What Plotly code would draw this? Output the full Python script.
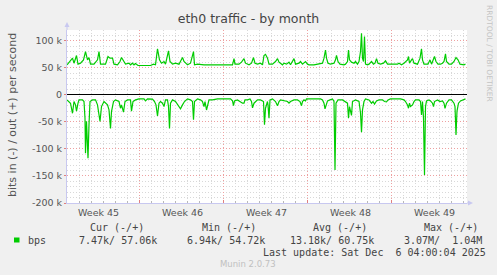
import plotly.graph_objects as go

# ---------------- data (values in k bits/s, time in hours since graph start) ----------------
out_hours = [0, 6, 11, 14, 19, 22, 27, 33, 37, 41, 44, 47, 54, 61, 64, 67, 77, 82, 86, 91, 94,
             101, 106, 109, 113, 117, 124, 127, 131, 134, 137, 142, 167, 173, 177, 181, 185, 189,
             194, 197, 203, 206, 211, 217, 224, 231, 234, 237, 241, 247, 253, 255, 261, 274, 287,
             301, 327, 331, 334, 336, 344, 349, 354, 357, 364, 369, 373, 376, 381, 387, 391, 394,
             397, 401, 404, 411, 417, 421, 424, 431, 434, 439, 444, 447, 454, 457, 464, 467, 471,
             474, 477, 481, 484, 494, 504, 511, 514, 517, 519, 522, 527, 534, 537, 539, 542, 546,
             554, 557, 561, 563, 565, 569, 574, 577, 581, 584, 587, 589, 591, 593, 595, 597, 601,
             604, 609, 613, 616, 619, 622, 627, 633, 637, 641, 647, 661, 664, 669, 674, 677, 681,
             683, 685, 689, 691, 694, 701, 706, 709, 711, 714, 722, 726, 729, 733, 735, 738, 742,
             747, 751, 754, 757, 759, 764, 769, 774, 778, 782, 786, 791, 794, 797]
out_k = [55.6, 61.7, 67.9, 58.6, 72.8, 56.8, 58.6, 64.8, 80.2, 64.8, 69.1, 56.8, 56.8, 64.8, 80.2,
         56.8, 56.8, 71.0, 67.9, 67.9, 56.8, 55.6, 61.7, 69.1, 61.7, 56.8, 58.6, 55.6, 58.6, 55.6,
         58.0, 54.3, 54.3, 56.8, 55.6, 85.2, 64.8, 58.6, 61.7, 56.8, 81.5, 61.7, 56.8, 58.6, 56.8,
         69.0, 61.7, 58.6, 55.6, 58.6, 80.0, 55.6, 56.8, 55.6, 55.6, 54.3, 54.3, 55.6, 67.0, 56.8,
         56.8, 60.5, 67.0, 58.6, 55.6, 58.6, 69.0, 58.6, 56.8, 58.6, 55.6, 72.8, 75.0, 68.0, 56.8,
         56.8, 61.7, 67.0, 60.5, 55.6, 58.6, 56.8, 60.5, 55.6, 67.0, 56.8, 58.6, 61.7, 56.8, 58.6,
         61.7, 56.8, 55.6, 55.6, 56.8, 58.6, 67.9, 83.0, 67.9, 58.6, 56.8, 58.6, 64.8, 73.0, 61.7,
         56.8, 55.6, 56.8, 61.7, 83.0, 64.8, 60.5, 58.6, 61.7, 56.8, 61.7, 80.2, 114.0, 67.9, 61.7,
         108.0, 56.8, 55.6, 56.8, 61.7, 56.8, 58.6, 67.0, 58.6, 56.8, 58.6, 62.9, 56.8, 56.8, 56.8,
         58.6, 55.6, 58.6, 61.7, 64.8, 71.0, 58.6, 64.8, 67.0, 58.6, 56.8, 67.9, 85.2, 64.8, 56.8,
         56.8, 64.8, 56.8, 64.8, 71.0, 61.7, 56.8, 56.8, 58.6, 61.7, 75.8, 61.7, 56.8, 56.8, 61.7,
         69.0, 64.8, 56.8, 56.8, 55.6, 57.1]

in_hours = [0, 4, 7, 11, 14, 17, 19, 22, 24, 31, 34, 36, 37, 39, 42, 44, 46, 51, 57, 61, 64, 66,
            69, 74, 81, 84, 87, 89, 93, 97, 104, 107, 109, 113, 116, 121, 127, 129, 132, 137, 144,
            154, 157, 161, 171, 175, 178, 181, 184, 187, 191, 194, 197, 201, 203, 205, 207, 211,
            217, 222, 227, 231, 235, 241, 247, 251, 253, 255, 261, 267, 271, 274, 276, 279, 281,
            284, 291, 301, 327, 331, 333, 335, 341, 346, 351, 354, 356, 361, 366, 369, 371, 374,
            381, 387, 393, 395, 397, 401, 402, 404, 406, 411, 417, 421, 424, 427, 434, 441, 444,
            447, 454, 461, 466, 469, 471, 474, 477, 479, 484, 507, 511, 514, 516, 518, 521, 526,
            531, 534, 536, 538, 542, 551, 557, 561, 563, 565, 569, 571, 577, 584, 587, 589, 591,
            594, 597, 604, 609, 612, 615, 619, 624, 631, 635, 639, 642, 647, 667, 674, 677, 681,
            683, 685, 687, 691, 694, 697, 704, 707, 709, 711, 713, 715, 717, 719, 724, 727, 731,
            733, 735, 741, 746, 751, 754, 756, 759, 764, 769, 774, 776, 778, 780, 783, 787, 794, 797]
in_k = [-9.3, -12.3, -15.4, -34.0, -12.3, -18.5, -30.0, -15.4, -9.3, -9.3, -12.3, -43.0, -108.0,
        -49.0, -117.0, -55.0, -12.3, -9.3, -9.3, -18.5, -34.0, -49.0, -21.6, -12.3, -18.5, -27.8,
        -62.0, -30.9, -12.3, -9.3, -12.3, -24.7, -18.5, -32.0, -12.3, -9.3, -9.3, -30.0, -12.3,
        -9.3, -7.4, -7.4, -11.1, -7.4, -8.0, -12.3, -18.5, -39.0, -15.4, -12.3, -15.4, -21.6, -9.3,
        -9.3, -21.6, -62.0, -15.4, -9.3, -12.3, -18.5, -25.9, -18.5, -12.3, -7.4, -9.3, -12.3,
        -46.0, -12.3, -7.4, -9.3, -12.3, -21.6, -12.3, -28.0, -19.8, -9.3, -9.3, -7.4, -7.4, -11.1,
        -20.0, -11.1, -9.3, -12.3, -15.4, -15.4, -9.3, -9.3, -7.4, -12.3, -24.0, -15.4, -9.3, -9.3,
        -12.3, -55.0, -24.7, -12.3, -18.5, -43.0, -9.3, -7.4, -12.3, -20.0, -12.3, -9.3, -11.1,
        -12.3, -15.4, -12.3, -9.3, -9.3, -12.3, -20.0, -12.3, -9.3, -11.1, -7.4, -7.4, -7.4, -9.3,
        -15.4, -26.0, -18.5, -11.1, -9.3, -7.4, -12.3, -139.0, -15.4, -9.3, -9.3, -12.3, -15.4,
        -43.0, -21.6, -38.0, -12.3, -9.3, -12.3, -33.0, -69.0, -27.8, -12.3, -7.4, -9.3, -15.4,
        -12.3, -17.0, -11.1, -9.3, -9.3, -12.3, -13.0, -9.3, -7.4, -7.4, -9.3, -12.3, -18.5, -24.7,
        -15.4, -21.6, -18.5, -12.3, -9.3, -9.3, -12.3, -37.0, -12.3, -43.0, -148.0, -21.6, -11.1,
        -9.3, -11.1, -15.4, -21.6, -12.3, -9.3, -12.3, -11.1, -15.4, -25.0, -15.4, -9.3, -9.3,
        -15.4, -21.6, -74.0, -30.0, -15.4, -11.1, -9.3, -7.5]

y_tickvals = [-200, -150, -100, -50, 0, 50, 100]
y_ticktext = ["-200 k", "-150 k", "-100 k", "-50 k", "0", "50 k", "100 k"]
week_boundaries = [144, 312, 480, 648]
day_marks = [24 * d for d in range(0, 34)]
week_label_pos = [62, 230, 398, 566, 734]
week_labels = ["Week 45", "Week 46", "Week 47", "Week 48", "Week 49"]

legend_headers = ["Cur (-/+)", "Min (-/+)", "Avg (-/+)", "Max (-/+)"]
legend_values = ["7.47k/ 57.06k", "6.94k/ 54.72k", "13.18k/ 60.75k", "3.07M/\u00a0 1.04M"]
series_name = "bps"
last_update = "Last update: Sat Dec\u00a0 6 04:00:04 2025"

# ---------------- layout helpers ----------------
W, H = 497, 275
L, R, T, B = 67, 467, 30, 203


def xp(px):
    return (px - L) / (R - L)


def yp(py):
    return (B - py) / (B - T)


GREEN = "#00cc00"
TXT = "#444444"
MONO = "DejaVu Sans Mono"
SANS = "DejaVu Sans"

fig = go.Figure()
fig.add_trace(go.Scatter(x=out_hours, y=out_k, mode="lines",
                         line=dict(color=GREEN, width=1.2), showlegend=False))
fig.add_trace(go.Scatter(x=in_hours, y=in_k, mode="lines",
                         line=dict(color=GREEN, width=1.2), showlegend=False))

minor_days = [d for d in day_marks if d not in week_boundaries]

fig.update_layout(
    width=W, height=H,
    margin=dict(l=L, r=W - R, t=T, b=H - B),
    paper_bgcolor="#f0f0f0", plot_bgcolor="#ffffff",
    showlegend=False,
    title=dict(text="eth0 traffic - by month", x=0.5, xref="container", xanchor="center",
               y=1 - 19 / H, yref="container", yanchor="middle",
               font=dict(family=SANS, size=12.5, color=TXT)),
    xaxis=dict(range=[0, 800], tickmode="array", tickvals=week_boundaries,
               showticklabels=False, showgrid=True, gridcolor="#eea0a0",
               griddash="1px,2px", gridwidth=1, zeroline=False,
               showline=True, linecolor="#c8c8f0", linewidth=1,
               ticks="inside", ticklen=3, tickcolor="#e08080",
               minor=dict(tickmode="array", tickvals=minor_days, showgrid=True,
                          gridcolor="#d8d8d8", griddash="1px,2px", gridwidth=1,
                          ticks="inside", ticklen=2, tickcolor="#b8b8b8")),
    yaxis=dict(range=[-200, 120], tickmode="array", tickvals=y_tickvals, ticktext=y_ticktext,
               showgrid=True, gridcolor="#eea0a0", griddash="1px,2px", gridwidth=1,
               zeroline=True, zerolinecolor="#000000", zerolinewidth=1.3,
               showline=True, linecolor="#c8c8f0", linewidth=1,
               ticks="outside", ticklen=2, tickcolor="#e08080",
               tickfont=dict(family=SANS, size=9.5, color="#555555"),
               minor=dict(dtick=10, tick0=0, showgrid=True, gridcolor="#d8d8d8",
                          griddash="1px,2px", gridwidth=1)),
)

annotations = []
for pos, lab in zip(week_label_pos, week_labels):
    annotations.append(dict(x=pos, xref="x", y=yp(212.7), yref="paper", text=lab,
                            showarrow=False, xanchor="center", yanchor="middle",
                            font=dict(family=SANS, size=9.5, color="#555555")))

annotations.append(dict(x=xp(12), xref="paper", y=yp(115), yref="paper",
                        text="bits in (-) / out (+) per second", textangle=-90,
                        showarrow=False, xanchor="center", yanchor="middle",
                        font=dict(family=SANS, size=11, color="#555555")))

annotations.append(dict(x=xp(490), xref="paper", y=yp(53), yref="paper",
                        text="RRDTOOL / TOBI OETIKER", textangle=90, showarrow=False,
                        xanchor="center", yanchor="middle",
                        font=dict(family=SANS, size=7.5, color="#c4c4c4")))

header_left = [89, 201, 312, 423]
for xl, txt in zip(header_left, legend_headers):
    annotations.append(dict(x=xp(xl - 1), xref="paper", y=yp(227.5), yref="paper",
                            text=txt.replace(" ", "\u00a0"), showarrow=False,
                            xanchor="left", yanchor="middle",
                            font=dict(family=MONO, size=10, color=TXT)))

value_left = [78, 186, 289, 403]
for xl, txt in zip(value_left, legend_values):
    annotations.append(dict(x=xp(xl - 1), xref="paper", y=yp(240), yref="paper",
                            text=txt.replace(" ", "\u00a0"), showarrow=False,
                            xanchor="left", yanchor="middle",
                            font=dict(family=MONO, size=10, color=TXT)))

annotations.append(dict(x=xp(26), xref="paper", y=yp(240), yref="paper", text=series_name,
                        showarrow=False, xanchor="left", yanchor="middle",
                        font=dict(family=MONO, size=10, color=TXT)))

annotations.append(dict(x=xp(261), xref="paper", y=yp(252), yref="paper",
                        text=last_update.replace(" ", "\u00a0"), showarrow=False,
                        xanchor="left", yanchor="middle",
                        font=dict(family=MONO, size=10, color=TXT)))

annotations.append(dict(x=xp(248), xref="paper", y=yp(263.5), yref="paper",
                        text="Munin 2.0.73", showarrow=False,
                        xanchor="center", yanchor="middle",
                        font=dict(family=SANS, size=8.5, color="#c0c0c0")))

fig.update_layout(annotations=annotations)

shapes = [
    dict(type="rect", xref="paper", yref="paper", x0=xp(14), x1=xp(19.5), y0=yp(242.5),
         y1=yp(237.5), fillcolor=GREEN, line=dict(width=0)),
    dict(type="line", xref="paper", yref="paper", x0=0, x1=0, y0=1, y1=yp(25),
         line=dict(color="#c8c8f0", width=1)),
    dict(type="path", xref="paper", yref="paper",
         path=f"M {xp(64.5)},{yp(27)} L {xp(69.5)},{yp(27)} L {xp(67)},{yp(22)} Z",
         fillcolor="#c8c8f0", line=dict(width=0)),
    dict(type="line", xref="paper", yref="paper", x0=1, x1=xp(469), y0=0, y1=0,
         line=dict(color="#c8c8f0", width=1)),
    dict(type="path", xref="paper", yref="paper",
         path=f"M {xp(468)},{yp(200.5)} L {xp(468)},{yp(205.5)} L {xp(473)},{yp(203)} Z",
         fillcolor="#c8c8f0", line=dict(width=0)),
]
fig.update_layout(shapes=shapes)

fig.write_html("out.html")
